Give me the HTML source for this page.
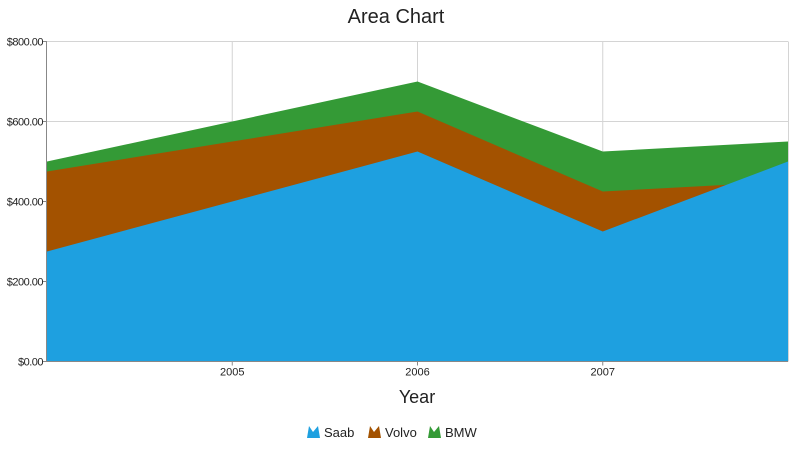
<!DOCTYPE html>
<html><head><meta charset="utf-8"><style>
html,body{margin:0;padding:0;background:#fff;width:800px;height:450px;overflow:hidden;font-family:"Liberation Sans",sans-serif}
</style></head><body>
<svg id="chart" width="800" height="450" xmlns="http://www.w3.org/2000/svg">
<text x="396" y="23" text-anchor="middle" font-size="20" fill="#222">Area Chart</text>
<g id="grid"></g><g id="areas"></g><g id="axes"></g>
<text x="417" y="403" text-anchor="middle" font-size="18" fill="#222">Year</text>
<g id="legend"></g>
</svg>
<script>
const years = [2004, 2005, 2006, 2007, 2008];
const xLabels = ["", "2005", "2006", "2007", ""];
const saab = [275, 400, 525, 325, 500];
const volvo = [475, 550, 625, 425, 450];
const bmw = [500, 600, 700, 525, 550];
const yTicks = [0, 200, 400, 600, 800];
const yTickLabels = ["$0.00", "$200.00", "$400.00", "$600.00", "$800.00"];
const seriesNames = ["Saab", "Volvo", "BMW"];
const seriesColors = ["#1ea0e0", "#a35200", "#349a36"];

const X0 = 47, X1 = 788, Y0 = 361.5, Y1 = 41.5;
const NS = "http://www.w3.org/2000/svg";
function xs(i){ return X0 + (X1 - X0) * i / (years.length - 1); }
function ys(v){ return Y0 - (Y0 - Y1) * v / 800; }
function mk(tag, attrs, parent){
  const e = document.createElementNS(NS, tag);
  for (const k in attrs) e.setAttribute(k, attrs[k]);
  parent.appendChild(e); return e;
}
const grid = document.getElementById('grid'), axes = document.getElementById('axes'), areas = document.getElementById('areas'), legend = document.getElementById('legend');
yTicks.forEach((t, i) => {
  const l = mk('line', {x1: X0, x2: X1, y1: ys(t), y2: ys(t), stroke: '#d4d4d4', 'stroke-width': 1}, grid);
  
  
  const tk = mk('line', {x1: X0 - 4, x2: X0, y1: ys(t), y2: ys(t), stroke: '#888'}, axes);
  
  
  const tx = mk('text', {x: X0 - 4, y: ys(t) + 4, 'text-anchor': 'end', 'font-size': 11, fill: '#222', 'letter-spacing': '-0.5'}, axes);
  tx.textContent = yTickLabels[i];
  
  
});
const rl = mk('line', {x1: X1 + 0.5, x2: X1 + 0.5, y1: Y1, y2: Y0, stroke: '#d4d4d4'}, grid);


years.forEach((y, i) => {
  if (!xLabels[i]) return;
  const l = mk('line', {x1: xs(i), x2: xs(i), y1: Y1, y2: Y0, stroke: '#d4d4d4'}, grid);
  
  
  const tk = mk('line', {x1: xs(i), x2: xs(i), y1: Y0, y2: Y0 + 4, stroke: '#888'}, axes);
  
  
  const tx = mk('text', {x: xs(i), y: Y0 + 14, 'text-anchor': 'middle', 'font-size': 11, fill: '#222'}, axes);
  tx.textContent = xLabels[i];
  
  
});
const all = [saab, volvo, bmw];
[2, 1, 0].forEach(s => {
  let d = 'M' + xs(0) + ',' + ys(0);
  all[s].forEach((v, i) => { d += ' L' + xs(i) + ',' + ys(v); });
  d += ' L' + xs(years.length - 1) + ',' + ys(0) + ' Z';
  const p = mk('path', {d: d, fill: seriesColors[s]}, areas);
  
  
});
const ax = mk('line', {x1: X0 - 0.5, x2: X0 - 0.5, y1: Y1, y2: Y0, stroke: '#888'}, axes);


const bx = mk('line', {x1: X0, x2: X1, y1: Y0, y2: Y0, stroke: '#888'}, axes);


const lx = [307, 368, 428];
seriesNames.forEach((n, i) => {
  const g = mk('g', {}, legend);
  
  
  const x = lx[i], y = 438;
  mk('path', {d: `M${x},${y} L${x+2},${y-12} L${x+6},${y-6} L${x+11},${y-12} L${x+13},${y} Z`, fill: seriesColors[i]}, g);
  const t = mk('text', {x: x + 17, y: y - 1, 'font-size': 13, fill: '#222'}, g);
  t.textContent = n;
});
</script>
</body></html>
